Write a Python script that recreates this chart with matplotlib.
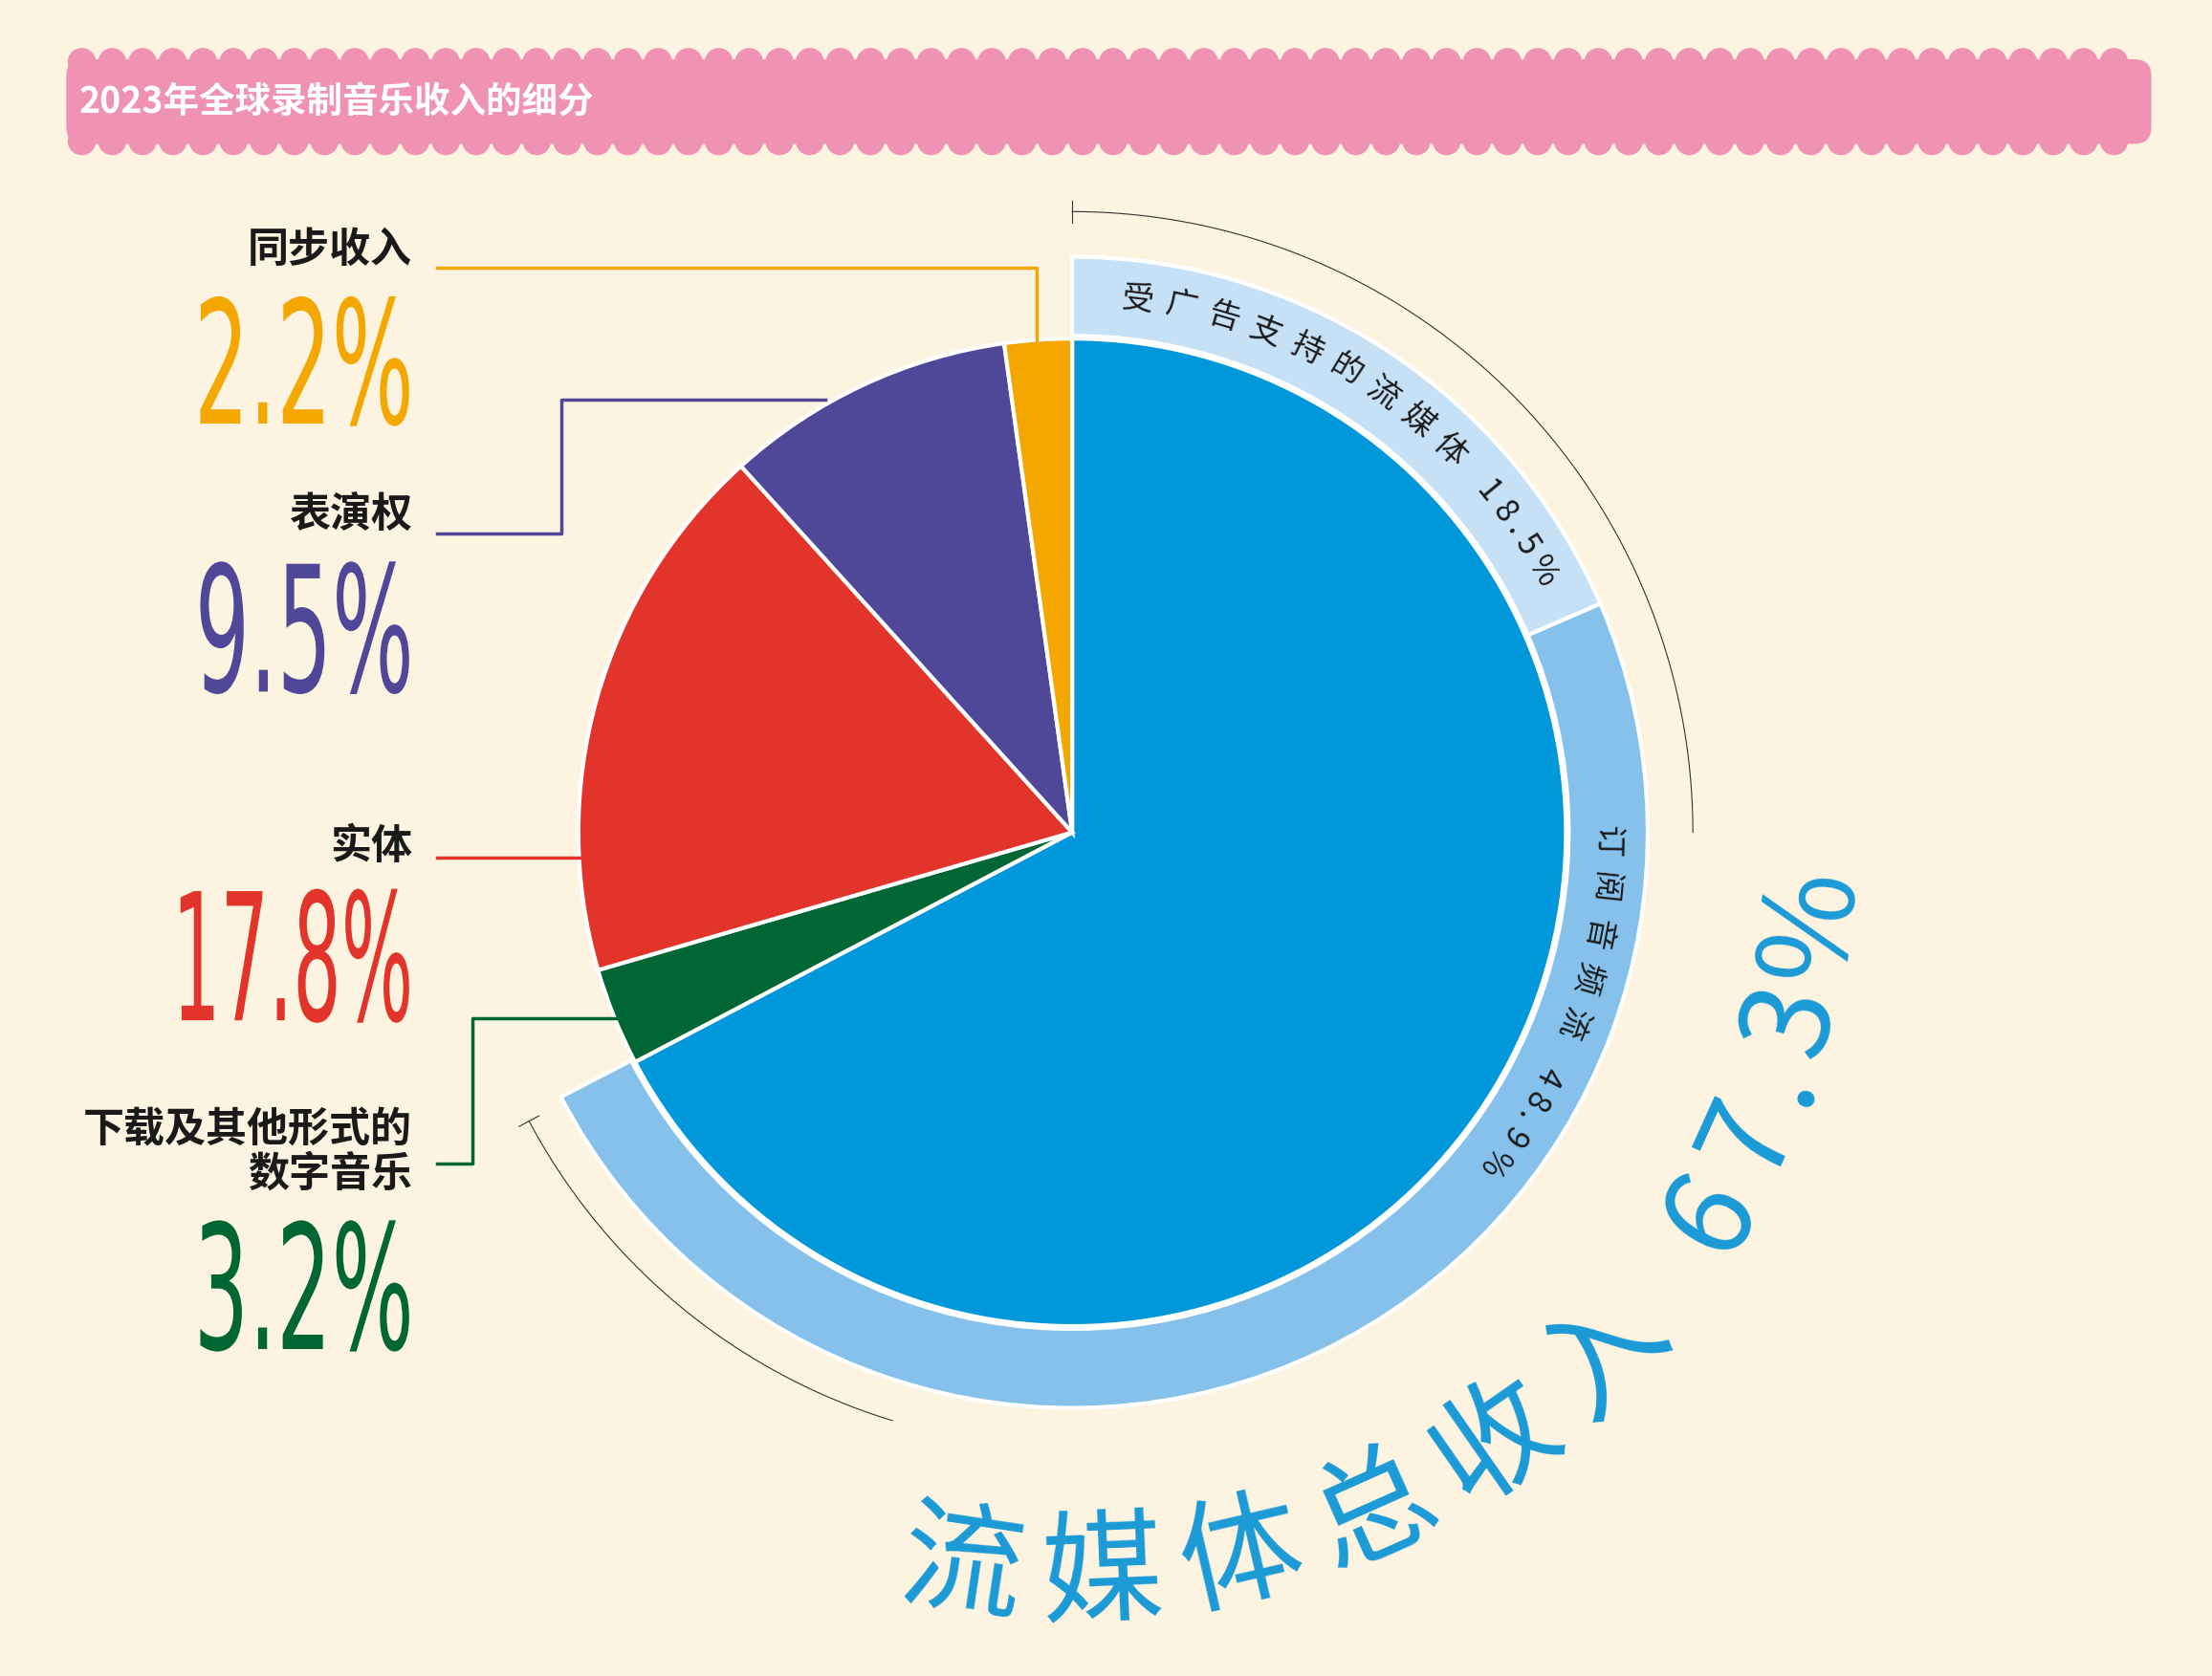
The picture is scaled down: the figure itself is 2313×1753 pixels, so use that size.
import numpy as np
import matplotlib
matplotlib.use("Agg")
import matplotlib.pyplot as plt
from matplotlib.patches import Wedge, Circle, FancyBboxPatch, PathPatch
from matplotlib.textpath import TextPath
from matplotlib.font_manager import FontProperties
from matplotlib.transforms import Affine2D

plt.rcParams['font.family'] = ['Noto Sans CJK SC', 'DejaVu Sans']

title = "2023年全球录制音乐收入的细分"
categories = ["流媒体", "下载及其他形式的\n数字音乐", "实体", "表演权", "同步收入"]
values = [67.3, 3.2, 17.8, 9.5, 2.2]
colors = ["#0098db", "#006633", "#e3342b", "#4f4797", "#f4a700"]
ring_labels = ["受广告支持的流媒体", "订阅音频流"]
ring_values = [18.5, 48.9]
ring_colors = ["#c6e0f5", "#85c1ea"]
total_label = "流媒体总收入"
total_value = 67.3

W, H = 1568, 1188
fig = plt.figure(figsize=(23.13, 17.53), dpi=100)
fig.patch.set_facecolor("#fdf3e1")
ax = fig.add_axes([0, 0, 1, 1])
ax.set_xlim(0, W); ax.set_ylim(H, 0); ax.axis("off")
ax.set_facecolor("#fdf3e1")

# banner
pink = "#f092b4"
ax.add_patch(FancyBboxPatch((47, 42), 1478, 60, boxstyle="round,pad=0,rounding_size=12",
                            fc=pink, ec="none"))
for x in np.arange(58, 1515, 21.5):
    ax.add_patch(Circle((x, 44), 10, fc=pink, ec="none"))
    ax.add_patch(Circle((x, 100), 10, fc=pink, ec="none"))
ax.text(56, 72, title, color="white", fontsize=27, fontweight="bold", va="center")

cx, cy = 760, 590
R, r0, r1 = 350, 352, 408

def wedge(theta_start_cw, frac, rad, width, color):
    a1 = 90 - theta_start_cw
    a2 = a1 - frac * 360
    return Wedge((cx, cy), rad, -a1, -a2, width=width, fc=color, ec="white", lw=3)

start = 0.0
for v, c in zip(ring_values, ring_colors):
    ax.add_patch(wedge(start, v / 100, r1, r1 - r0, c))
    start += v / 100 * 360
start = 0.0
for v, c in zip(values, colors):
    ax.add_patch(wedge(start, v / 100, R, None, c))
    start += v / 100 * 360

def pos(ang, rad):
    return cx + rad * np.cos(np.radians(ang)), cy - rad * np.sin(np.radians(ang))

for a0, a1, rr in [(90, 0, 440), (208, 253, 436)]:
    t = np.linspace(a0, a1, 100)
    xs, ys = pos(t, rr)
    ax.plot(xs, ys, color="#333333", lw=0.8)
    p1 = pos(a0, rr - 8); p2 = pos(a0, rr + 8)
    ax.plot([p1[0], p2[0]], [p1[1], p2[1]], color="#333333", lw=0.8)

def cw_width(ch):
    if ord(ch) > 0x2E80:
        return 1.0
    if ch == " ":
        return 0.45
    if ch == ".":
        return 0.3
    if ch == "%":
        return 0.8
    return 0.6

def arc_text(s, a_start, a_end, rad, size, color, weight="normal", cw=True):
    w = np.array([cw_width(c) for c in s])
    centers = np.cumsum(w) - w / 2
    frac = (centers - centers[0]) / (centers[-1] - centers[0])
    angs = a_start + frac * (a_end - a_start)
    for ch, a in zip(s, angs):
        x, y = pos(a, rad)
        rot = a - 90 if cw else a + 90
        ax.text(x, y, ch, rotation=rot, rotation_mode="anchor", ha="center", va="center",
                fontsize=size, color=color, fontweight=weight)

arc_text(ring_labels[0] + " " + f"{ring_values[0]}%", 83, 29, 381, 24, "#1a1a1a", "medium")
arc_text(ring_labels[1] + " " + f"{ring_values[1]}%", -1, -38, 379, 24, "#1a1a1a", "medium")
arc_text(total_label + " " + f"{total_value}%", -98.5, -7, 528, 92, "#1a9ad6", "medium", cw=False)

def fit_text(s, x0, x1, y0, y1, color):
    fp = FontProperties(family=["Liberation Sans Narrow", "DejaVu Sans"])
    tp = TextPath((0, 0), s, size=100, prop=fp)
    ext = tp.get_extents()
    sx = (x1 - x0) / ext.width; sy = (y1 - y0) / ext.height
    tr = Affine2D().translate(-ext.x0, -ext.y0).scale(sx, -sy).translate(x0, y1)
    ax.add_patch(PathPatch(tr.transform_path(tp), fc=color, ec="none"))

lab = dict(fontsize=31, fontweight="bold", color="#1a1a1a", ha="right", va="center")
ax.text(292, 177, categories[4], **lab)
fit_text(f"{values[4]}%", 142, 290, 210, 302, colors[4])
ax.text(292, 365, categories[3], **lab)
fit_text(f"{values[3]}%", 142, 290, 398, 492, colors[3])
ax.text(292, 600, categories[2], **lab)
fit_text(f"{values[2]}%", 128, 290, 630, 725, colors[2])
ax.text(292, 816, categories[1], linespacing=1.1, **lab)
fit_text(f"{values[1]}%", 142, 290, 865, 958, colors[1])

lw = 2.5
ax.plot([310, 735, 735], [190, 190, 243], color=colors[4], lw=lw)
ax.plot([310, 398, 398, 585], [378, 378, 283, 283], color=colors[3], lw=lw)
ax.plot([310, 412], [608, 608], color=colors[2], lw=lw)
ax.plot([310, 335, 335, 440], [825, 825, 722, 722], color=colors[1], lw=lw)

fig.savefig("out.png", dpi=100, facecolor=fig.get_facecolor())
